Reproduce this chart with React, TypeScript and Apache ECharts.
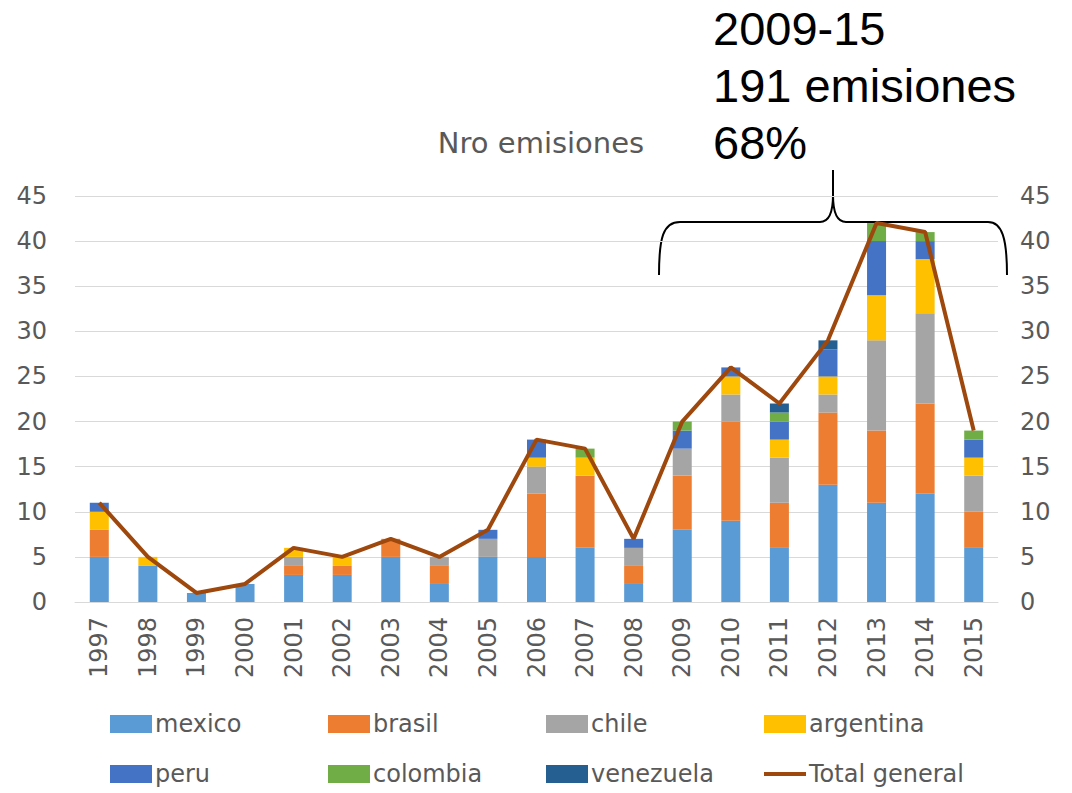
import React, { useEffect, useRef } from "react";
import * as echarts from "echarts";

const years = ["1997","1998","1999","2000","2001","2002","2003","2004","2005","2006","2007","2008","2009","2010","2011","2012","2013","2014","2015"];
const mexico =    [5, 4, 1, 2, 3, 3, 5, 2, 5, 5, 6, 2, 8, 9, 6, 13, 11, 12, 6];
const brasil =    [3, 0, 0, 0, 1, 1, 2, 2, 0, 7, 8, 2, 6, 11, 5, 8, 8, 10, 4];
const chile =     [0, 0, 0, 0, 1, 0, 0, 1, 2, 3, 0, 2, 3, 3, 5, 2, 10, 10, 4];
const argentina = [2, 1, 0, 0, 1, 1, 0, 0, 0, 1, 2, 0, 0, 2, 2, 2, 5, 6, 2];
const peru =      [1, 0, 0, 0, 0, 0, 0, 0, 1, 2, 0, 1, 2, 1, 2, 3, 6, 2, 2];
const colombia =  [0, 0, 0, 0, 0, 0, 0, 0, 0, 0, 1, 0, 1, 0, 1, 0, 2, 1, 1];
const venezuela = [0, 0, 0, 0, 0, 0, 0, 0, 0, 0, 0, 0, 0, 0, 1, 1, 0, 0, 0];
const totalGeneral = [11, 5, 1, 2, 6, 5, 7, 5, 8, 18, 17, 7, 20, 26, 22, 29, 42, 41, 19];
const yTicks = { min: 0, max: 45, interval: 5 };

const countries = [
  { name: "mexico", data: mexico, color: "#5B9BD5" },
  { name: "brasil", data: brasil, color: "#ED7D31" },
  { name: "chile", data: chile, color: "#A5A5A5" },
  { name: "argentina", data: argentina, color: "#FFC000" },
  { name: "peru", data: peru, color: "#4472C4" },
  { name: "colombia", data: colombia, color: "#70AD47" },
  { name: "venezuela", data: venezuela, color: "#255E91" },
];

const FONT = "'DejaVu Sans', sans-serif";

let registered = false;

export default function App() {
  const ref = useRef<HTMLDivElement>(null);
  useEffect(() => {
    if (!ref.current) return;
    if (!registered) {
      const d =
        "M659,275 C659,238 663,222 680,222 L820,222 C829,222 833,212 833,195 L833,170 L833,195 C833,212 837,222 846,222 L988,222 C1002,222 1007,238 1007,275";
      echarts.graphic.registerShape("brace", echarts.graphic.extendPath(d, {}));
      registered = true;
    }
    const chart = echarts.init(ref.current, null, { renderer: "svg" });
    const legendPos = [
      { name: "mexico", left: 110, top: 712 },
      { name: "brasil", left: 328, top: 712 },
      { name: "chile", left: 546, top: 712 },
      { name: "argentina", left: 764, top: 712 },
      { name: "peru", left: 110, top: 762 },
      { name: "colombia", left: 328, top: 762 },
      { name: "venezuela", left: 546, top: 762 },
      { name: "Total general", left: 764, top: 762 },
    ];
    const option: any = {
      animation: false,
      backgroundColor: "#fff",
      title: {
        text: "Nro emisiones",
        left: 536,
        top: 123,
        textAlign: "center",
        textStyle: { fontFamily: FONT, fontSize: 29, fontWeight: "normal", color: "#595959" },
      },
      grid: { left: 75, right: 74, top: 196, bottom: 191 },
      legend: legendPos.map((l) => ({
        data: [l.name],
        left: l.left,
        top: l.top,
        itemWidth: 42,
        itemHeight: l.name === "Total general" ? 4 : 18,
        icon: "rect",
        itemGap: 0,
        textStyle: { fontFamily: FONT, fontSize: 24, color: "#595959", padding: [0, 0, 0, -2] },
        padding: 0,
      })),
      xAxis: {
        type: "category",
        data: years,
        axisLine: { show: true, lineStyle: { color: "#D9D9D9", width: 1 } },
        axisTick: { show: false },
        axisLabel: { rotate: 90, fontFamily: FONT, fontSize: 24, color: "#595959", margin: 15 },
      },
      yAxis: [
        {
          type: "value",
          ...yTicks,
          axisLine: { show: false },
          axisTick: { show: false },
          splitLine: { lineStyle: { color: "#D9D9D9", width: 1 } },
          axisLabel: { fontFamily: FONT, fontSize: 24, color: "#595959", margin: 28 },
        },
        {
          type: "value",
          ...yTicks,
          position: "right",
          axisLine: { show: false },
          axisTick: { show: false },
          splitLine: { show: false },
          axisLabel: { fontFamily: FONT, fontSize: 24, color: "#595959", margin: 22 },
        },
      ],
      series: [
        ...countries.map((c) => ({
          name: c.name,
          type: "bar",
          stack: "total",
          data: c.data,
          barWidth: 19,
          itemStyle: { color: c.color },
        })),
        {
          name: "Total general",
          type: "line",
          data: totalGeneral,
          symbol: "none",
          lineStyle: { color: "#9E480E", width: 4 },
          itemStyle: { color: "#9E480E" },
          z: 5,
        },
      ],
      graphic: [
        {
          type: "brace",
          x: 0,
          y: 0,
          style: { stroke: "#000", fill: "none", lineWidth: 2 },
        },
        {
          type: "text",
          left: 713,
          top: 0,
          style: {
            text: "2009-15\n191 emisiones\n68%",
            fontFamily: "'Liberation Sans', Arial, sans-serif",
            fontSize: 47,
            lineHeight: 57,
            fill: "#000",
          },
        },
      ],
    };
    chart.setOption(option);
    return () => chart.dispose();
  }, []);
  return (
    <div
      ref={ref}
      style={{ position: "fixed", left: 0, top: 0, width: 1072, height: 793, background: "#fff" }}
    />
  );
}
